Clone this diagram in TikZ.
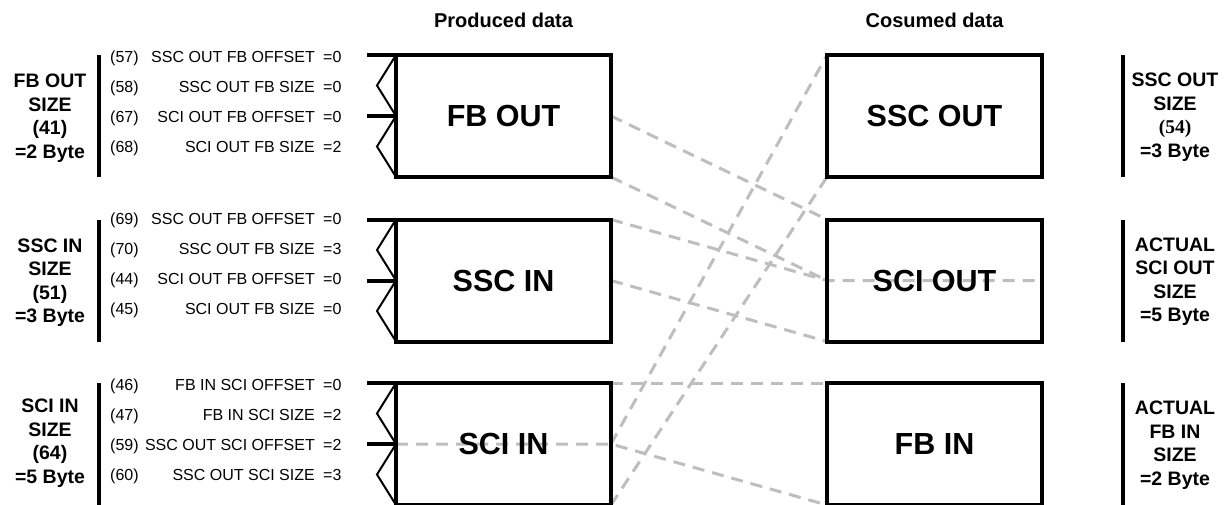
\documentclass[tikz,border=0pt]{standalone}
\usepackage{fontspec}
\setmainfont{Liberation Sans}
\newfontfamily\numserif{Liberation Serif}
\usetikzlibrary{backgrounds,calc}
\definecolor{linkgray}{RGB}{190,190,190}

\tikzset{
  blk/.style={draw, line width=4pt, minimum width=215pt, minimum height=122pt,
    inner sep=0pt, outer sep=0pt, font=\fontsize{30.5}{33}\selectfont\bfseries},
  chev/.style={line width=2pt, line join=miter},
  stub/.style={line width=4pt},
  bar/.style={line width=4pt},
  rowtxt/.style={inner sep=0pt, text height=11.5pt, text depth=0pt,
    font=\fontsize{16}{18}\selectfont},
  sizelbl/.style={align=center, inner sep=0pt,
    font=\fontsize{19.5}{23.5}\selectfont\bfseries},
  title/.style={inner sep=0pt, font=\fontsize{20}{22}\selectfont\bfseries},
  link/.style={draw=linkgray, line width=3pt, dash pattern=on 12pt off 8pt},
}

% port marks on the left side of a producer block
\newcommand\portmarks[1]{%
  \draw[chev] (#1.north west)
    -- ($(#1.north west)!.25!(#1.south west)+(-19,0)$)
    -- (#1.west)
    -- ($(#1.north west)!.75!(#1.south west)+(-19,0)$)
    -- (#1.south west);
  \draw[stub] (#1.north west) -- ++(-29,0);
  \draw[stub] (#1.west) -- ++(-29,0);
}

\begin{document}
\begin{tikzpicture}[x=1pt, y=-1pt]
\useasboundingbox (0,0) rectangle (1228,504);

% titles
\node[title] (prod) at (503.5,20) {Produced data};
\node[title] (cons) at (934.5,20) {Cosumed data};

% producer blocks
\node[blk] (fbout) at (503.5,116)   {FB OUT};
\node[blk] (sscin) at (503.5,280.5) {SSC IN};
\node[blk] (sciin) at (503.5,444)   {SCI IN};

% consumer blocks
\node[blk] (sscout) at (934.5,116)   {SSC OUT};
\node[blk] (sciout) at (934.5,280.5) {SCI OUT};
\node[blk] (fbin)   at (934.5,444)   {FB IN};

\portmarks{fbout}
\portmarks{sscin}
\portmarks{sciin}

% size brackets
\coordinate (lbar) at (99,0);
\coordinate (rbar) at (1123,0);
\foreach \b in {fbout,sscin,sciin}
  \draw[bar] (lbar |- \b.north) -- (lbar |- \b.south);
\foreach \b in {sscout,sciout,fbin}
  \draw[bar] (rbar |- \b.north) -- (rbar |- \b.south);

\node[sizelbl] (szfbout) at (50,118)   {FB OUT\\SIZE\\(41)\\=2 Byte};
\node[sizelbl] (szsscin) at (50,282.5) {SSC IN\\SIZE\\(51)\\=3 Byte};
\node[sizelbl] (szsciin) at (50,443)   {SCI IN\\SIZE\\(64)\\=5 Byte};

\node[sizelbl] (szsscout) at (1175,117)   {SSC OUT\\SIZE\\{\numserif\bfseries(54)}\\=3 Byte};
\node[sizelbl] (szsciout) at (1175,281.5) {ACTUAL\\SCI OUT\\SIZE\\=5 Byte};
\node[sizelbl] (szfbin)   at (1175,445)   {ACTUAL\\FB IN\\SIZE\\=2 Byte};

% parameter rows
\foreach \y/\n/\t/\v [count=\k] in {
   57/(57)/SSC OUT FB OFFSET/=0,
   87/(58)/SSC OUT FB SIZE/=0,
  117/(67)/SCI OUT FB OFFSET/=0,
  147/(68)/SCI OUT FB SIZE/=2,
  219/(69)/SSC OUT FB OFFSET/=0,
  249/(70)/SSC OUT FB SIZE/=3,
  279/(44)/SCI OUT FB OFFSET/=0,
  309/(45)/SCI OUT FB SIZE/=0,
  385/(46)/FB IN SCI OFFSET/=0,
  415/(47)/FB IN SCI SIZE/=2,
  445/(59)/SSC OUT SCI OFFSET/=2,
  475/(60)/SSC OUT SCI SIZE/=3} {
  \node[rowtxt, anchor=west] (num\k) at (110,\y) {\n};
  \node[rowtxt, anchor=east] (sig\k) at (315,\y) {\t};
  \node[rowtxt, anchor=west] (val\k) at (323,\y) {\v};
}

% data links
\begin{scope}[on background layer]
  \fill[white] (0,0) rectangle (1228,504);
  \draw[link] (fbout.east) -- (sciout.north west);
  \draw[link] (fbout.south east) -- (sciout.west);
  \draw[link] (sscin.north east) -- (sciout.west) -- (sciout.east);
  \draw[link] (sscin.east) -- (sciout.south west);
  \draw[link] (sciin.north east) -- (fbin.north west);
  \draw[link] (sciin.west) -- (sciin.east) -- (fbin.south west);
  \draw[link] (sciin.east) -- (sscout.north west);
  \draw[link] (sciin.south east) -- (sscout.south west);
\end{scope}
\end{tikzpicture}
\end{document}
